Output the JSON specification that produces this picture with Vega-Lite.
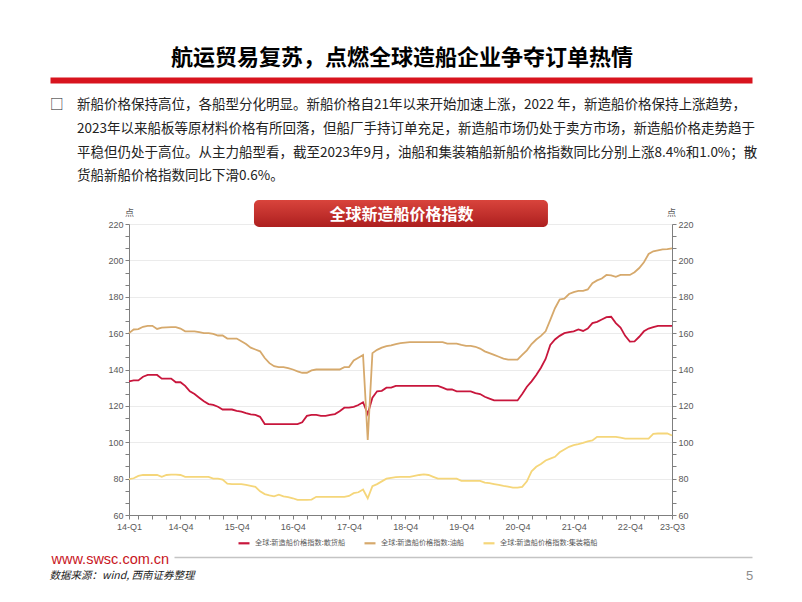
{
"$schema": "https://vega.github.io/schema/vega-lite/v6.json",
"width": 543,
"height": 291,
"autosize": "none",
"padding": {"left": 129, "top": 224, "right": 130, "bottom": 87},
"background": "#ffffff",
"title": {
  "text": "\u200b　　　　　\u2002航运贸易复苏，点燃全球造船企业争夺订单热情",
  "subtitle": [
    "□　新船价格保持高位，各船型分化明显。新船价格自21年以来开始加速上涨，2022 年，新造船价格保持上涨趋势，",
    "\u200b　　2023年以来船板等原材料价格有所回落，但船厂手持订单充足，新造船市场仍处于卖方市场，新造船价格走势趋于",
    "\u200b　　平稳但仍处于高位。从主力船型看，截至2023年9月，油船和集装箱船新船价格指数同比分别上涨8.4%和1.0%；散",
    "\u200b　　货船新船价格指数同比下滑0.6%。"
  ],
  "anchor": "start",
  "frame": "group",
  "dx": -79,
  "dy": 104,
  "offset": 0,
  "font": "Noto Sans CJK SC",
  "fontSize": 22,
  "fontWeight": "bold",
  "color": "#000000",
  "subtitleFont": "Noto Sans CJK SC",
  "subtitleFontSize": 13.5,
  "subtitleColor": "#222222",
  "subtitleLineHeight": 23.7,
  "subtitlePadding": 28
},
"config": {
  "view": {"stroke": null},
  "axis": {
    "labelFont": "Liberation Sans",
    "labelFontSize": 9,
    "labelColor": "#595959",
    "domainColor": "#7f7f7f",
    "tickColor": "#7f7f7f",
    "tickSize": 4,
    "titleFont": "Noto Sans CJK SC",
    "titleFontSize": 9,
    "titleColor": "#595959",
    "titleFontWeight": "normal",
    "gridColor": "#ebebeb"
  }
},
"resolve": {
  "scale": {"x": "independent"},
  "axis": {"x": "independent", "y": "independent"}
},
"layer": [
  {
    "data": {"values": [
      {"t":0,"散货船":133.5,"油船":160,"集装箱船":79.7},
      {"t":1,"散货船":134,"油船":162,"集装箱船":80.2},
      {"t":2,"散货船":134,"油船":162.2,"集装箱船":81.5},
      {"t":3,"散货船":136,"油船":163.5,"集装箱船":82},
      {"t":4,"散货船":137,"油船":164,"集装箱船":82},
      {"t":5,"散货船":137,"油船":164,"集装箱船":82},
      {"t":6,"散货船":137,"油船":162.3,"集装箱船":82},
      {"t":7,"散货船":135,"油船":163,"集装箱船":81},
      {"t":8,"散货船":135,"油船":163.2,"集装箱船":82},
      {"t":9,"散货船":135,"油船":163.3,"集装箱船":82.2},
      {"t":10,"散货船":133,"油船":163.3,"集装箱船":82.2},
      {"t":11,"散货船":133,"油船":162.5,"集装箱船":82},
      {"t":12,"散货船":131,"油船":161,"集装箱船":81},
      {"t":13,"散货船":128,"油船":161,"集装箱船":81},
      {"t":14,"散货船":126.5,"油船":161,"集装箱船":81},
      {"t":15,"散货船":124.5,"油船":160.5,"集装箱船":81},
      {"t":16,"散货船":122.5,"油船":160,"集装箱船":81},
      {"t":17,"散货船":121,"油船":160,"集装箱船":81},
      {"t":18,"散货船":120.5,"油船":159.6,"集装箱船":80},
      {"t":19,"散货船":119.5,"油船":158.7,"集装箱船":80},
      {"t":20,"散货船":118,"油船":158.7,"集装箱船":79.5},
      {"t":21,"散货船":118,"油船":157,"集装箱船":77.2},
      {"t":22,"散货船":118,"油船":157,"集装箱船":77},
      {"t":23,"散货船":117.3,"油船":157,"集装箱船":77},
      {"t":24,"散货船":116.8,"油船":155.5,"集装箱船":77},
      {"t":25,"散货船":116,"油船":154,"集装箱船":76.5},
      {"t":26,"散货船":115.3,"油船":152,"集装箱船":76},
      {"t":27,"散货船":115,"油船":151,"集装箱船":75.5},
      {"t":28,"散货船":114,"油船":150,"集装箱船":73},
      {"t":29,"散货船":110,"油船":146.3,"集装箱船":71.5},
      {"t":30,"散货船":110,"油船":143.5,"集装箱船":70.8},
      {"t":31,"散货船":110,"油船":141.8,"集装箱船":70.3},
      {"t":32,"散货船":110,"油船":141.3,"集装箱船":71.2},
      {"t":33,"散货船":110,"油船":141.3,"集装箱船":70.2},
      {"t":34,"散货船":110,"油船":140.8,"集装箱船":69.8},
      {"t":35,"散货船":110,"油船":140,"集装箱船":69.2},
      {"t":36,"散货船":110,"油船":139,"集装箱船":68.3},
      {"t":37,"散货船":111,"油船":138.2,"集装箱船":68.3},
      {"t":38,"散货船":114.5,"油船":138.2,"集装箱船":68.3},
      {"t":39,"散货船":115,"油船":139.5,"集装箱船":68.5},
      {"t":40,"散货船":115,"油船":140,"集装箱船":70},
      {"t":41,"散货船":114.5,"油船":140,"集装箱船":70},
      {"t":42,"散货船":114.5,"油船":140,"集装箱船":70},
      {"t":43,"散货船":115,"油船":140,"集装箱船":70},
      {"t":44,"散货船":115.5,"油船":140,"集装箱船":70},
      {"t":45,"散货船":117,"油船":140,"集装箱船":70},
      {"t":46,"散货船":119,"油船":141.3,"集装箱船":70},
      {"t":47,"散货船":119,"油船":141.3,"集装箱船":70.5},
      {"t":48,"散货船":119.5,"油船":145,"集装箱船":72},
      {"t":49,"散货船":120.5,"油船":146.5,"集装箱船":72.5},
      {"t":50,"散货船":122,"油船":148,"集装箱船":74},
      {"t":51,"散货船":115.5,"油船":101.3,"集装箱船":69.2},
      {"t":52,"散货船":124.5,"油船":149,"集装箱船":75.8},
      {"t":53,"散货船":128,"油船":150.8,"集装箱船":77},
      {"t":54,"散货船":128.3,"油船":152,"集装箱船":78.5},
      {"t":55,"散货船":130,"油船":152.8,"集装箱船":80},
      {"t":56,"散货船":130,"油船":153.3,"集装箱船":80.4},
      {"t":57,"散货船":131,"油船":154,"集装箱船":80.8},
      {"t":58,"散货船":131,"油船":154.5,"集装箱船":81},
      {"t":59,"散货船":131,"油船":154.8,"集装箱船":81},
      {"t":60,"散货船":131,"油船":155,"集装箱船":81},
      {"t":61,"散货船":131,"油船":155,"集装箱船":81.5},
      {"t":62,"散货船":131,"油船":155,"集装箱船":82},
      {"t":63,"散货船":131,"油船":155,"集装箱船":82.3},
      {"t":64,"散货船":131,"油船":155,"集装箱船":82},
      {"t":65,"散货船":131,"油船":155,"集装箱船":81},
      {"t":66,"散货船":131,"油船":155,"集装箱船":80},
      {"t":67,"散货船":130,"油船":155,"集装箱船":80},
      {"t":68,"散货船":129,"油船":154.2,"集装箱船":80},
      {"t":69,"散货船":129,"油船":154.2,"集装箱船":80},
      {"t":70,"散货船":128,"油船":154.2,"集装箱船":80},
      {"t":71,"散货船":128,"油船":153.5,"集装箱船":78.8},
      {"t":72,"散货船":128,"油船":153,"集装箱船":78.8},
      {"t":73,"散货船":128,"油船":153,"集装箱船":78.8},
      {"t":74,"散货船":127,"油船":152.5,"集装箱船":78.8},
      {"t":75,"散货船":126.5,"油船":151.5,"集装箱船":78.8},
      {"t":76,"散货船":125,"油船":150,"集装箱船":77.8},
      {"t":77,"散货船":124,"油船":149,"集装箱船":77.5},
      {"t":78,"散货船":123,"油船":148,"集装箱船":77},
      {"t":79,"散货船":123,"油船":147,"集装箱船":76.5},
      {"t":80,"散货船":123,"油船":146,"集装箱船":76},
      {"t":81,"散货船":123,"油船":145.4,"集装箱船":75.6},
      {"t":82,"散货船":123,"油船":145.4,"集装箱船":75},
      {"t":83,"散货船":123,"油船":145.4,"集装箱船":75},
      {"t":84,"散货船":126.5,"油船":148,"集装箱船":75.5},
      {"t":85,"散货船":130.5,"油船":150.5,"集装箱船":78.5},
      {"t":86,"散货船":133.5,"油船":154,"集装箱船":84},
      {"t":87,"散货船":137,"油船":156.5,"集装箱船":86.5},
      {"t":88,"散货船":141,"油船":158.5,"集装箱船":88},
      {"t":89,"散货船":145.8,"油船":161,"集装箱船":90},
      {"t":90,"散货船":153.5,"油船":167.3,"集装箱船":91},
      {"t":91,"散货船":156.5,"油船":173.7,"集装箱船":92},
      {"t":92,"散货船":158.5,"油船":178.5,"集装箱船":94.5},
      {"t":93,"散货船":160,"油船":179,"集装箱船":96},
      {"t":94,"散货船":160.5,"油船":181.5,"集装箱船":97.5},
      {"t":95,"散货船":161,"油船":182.5,"集装箱船":98.4},
      {"t":96,"散货船":162,"油船":183.2,"集装箱船":99},
      {"t":97,"散货船":161.2,"油船":183.2,"集装箱船":99.7},
      {"t":98,"散货船":162.5,"油船":184,"集装箱船":100.5},
      {"t":99,"散货船":165.5,"油船":187.5,"集装箱船":101},
      {"t":100,"散货船":166.2,"油船":189,"集装箱船":103},
      {"t":101,"散货船":167.5,"油船":190,"集装箱船":103},
      {"t":102,"散货船":168.8,"油船":192,"集装箱船":103},
      {"t":103,"散货船":169,"油船":191.8,"集装箱船":103},
      {"t":104,"散货船":165.5,"油船":191,"集装箱船":103},
      {"t":105,"散货船":163,"油船":192,"集装箱船":102.5},
      {"t":106,"散货船":158.5,"油船":192,"集装箱船":102},
      {"t":107,"散货船":155.3,"油船":192,"集装箱船":102},
      {"t":108,"散货船":155.5,"油船":193.5,"集装箱船":102},
      {"t":109,"散货船":158,"油船":195.8,"集装箱船":102},
      {"t":110,"散货船":161,"油船":199,"集装箱船":102},
      {"t":111,"散货船":162.5,"油船":203.5,"集装箱船":102},
      {"t":112,"散货船":163.3,"油船":205,"集装箱船":104.6},
      {"t":113,"散货船":164,"油船":205.5,"集装箱船":104.8},
      {"t":114,"散货船":164,"油船":206,"集装箱船":104.8},
      {"t":115,"散货船":164,"油船":206.2,"集装箱船":104.8},
      {"t":116,"散货船":164,"油船":206.6,"集装箱船":103.7}
    ]},
    "transform": [{"fold": ["散货船", "油船", "集装箱船"], "as": ["series", "value"]}],
    "mark": {"type": "line", "strokeWidth": 1.8},
    "encoding": {
      "x": {
        "field": "t", "type": "quantitative",
        "scale": {"domain": [0, 116], "nice": false, "zero": false},
        "axis": {
          "orient": "bottom",
          "values": [0,2,5,8,11,14,17,20,23,26,29,32,35,38,41,44,47,50,53,56,59,62,65,68,71,74,77,80,83,86,89,92,95,98,101,104,107,110,113,116],
          "labelExpr": "indexof([0,11,23,35,47,59,71,83,95,107,116], datum.value) >= 0 ? (floor(datum.value/12)+14) + '-Q' + (floor((datum.value%12)/3)+1) : ''",
          "labelFlush": false,
          "labelOverlap": false,
          "labelPadding": 3,
          "grid": false,
          "title": "数据来源：wind, 西南证券整理",
          "titleFontStyle": "italic",
          "titleFontSize": 10.5,
          "titleColor": "#222222",
          "titleX": -80,
          "titleY": 60,
          "titleAlign": "left",
          "titleBaseline": "middle",
          "titleAngle": 0
        }
      },
      "y": {
        "field": "value", "type": "quantitative",
        "scale": {"domain": [60, 220], "nice": false, "zero": false},
        "axis": {
          "orient": "left",
          "values": [60,66.6667,73.3333,80,86.6667,93.3333,100,106.6667,113.3333,120,126.6667,133.3333,140,146.6667,153.3333,160,166.6667,173.3333,180,186.6667,193.3333,200,206.6667,213.3333,220],
          "labelExpr": "datum.value % 20 === 0 ? datum.label : ''",
          "format": "d",
          "grid": true,
          "gridOpacity": {"condition": {"test": "datum.value % 20 === 0", "value": 1}, "value": 0},
          "title": "点",
          "titleAngle": 0,
          "titleX": 0,
          "titleY": -12,
          "titleAlign": "center",
          "titleBaseline": "middle"
        }
      },
      "color": {
        "field": "series", "type": "nominal",
        "scale": {"domain": ["散货船", "油船", "集装箱船"], "range": ["#c8163c", "#d6a96c", "#f5d67a"]},
        "legend": {
          "orient": "none",
          "legendX": 108,
          "legendY": 312,
          "direction": "horizontal",
          "title": null,
          "symbolType": "stroke",
          "symbolSize": 121,
          "symbolStrokeWidth": 2.2,
          "labelFont": "Noto Sans CJK SC",
          "labelFontSize": 7.2,
          "labelColor": "#595959",
          "labelOffset": 4,
          "columnPadding": 14,
          "padding": 0,
          "labelExpr": "'全球:新造船价格指数:' + datum.label"
        }
      }
    }
  },
  {
    "data": {"values": [{"label": "全球新造船价格指数"}]},
    "mark": {"type": "rect", "cornerRadius": 5,
      "fill": {"gradient": "linear", "x1": 0, "y1": 0, "x2": 0, "y2": 1,
        "stops": [{"offset": 0, "color": "#d9443c"}, {"offset": 1, "color": "#ad1f1f"}]}},
    "encoding": {
      "x": {"datum": 26.7, "type": "quantitative",
        "scale": {"domain": [9.6133, 133.091], "range": [45, 623], "nice": false, "zero": false},
        "axis": {"orient": "bottom", "offset": 42, "labels": false, "ticks": false, "grid": false,
          "domainColor": "#c4c4c4", "domainWidth": 1.5,
          "title": "5", "titleFont": "Liberation Sans", "titleFontSize": 13, "titleColor": "#8c8c8c",
          "titleX": 620, "titleY": 18, "titleAlign": "center", "titleBaseline": "middle"}},
      "x2": {"datum": 89.5},
      "y": {"datum": 218.4, "type": "quantitative",
        "scale": {"domain": [60, 220], "nice": false, "zero": false}, "axis": null},
      "y2": {"datum": 233.2}
    }
  },
  {
    "data": {"values": [{"label": "全球新造船价格指数"}]},
    "mark": {"type": "text", "font": "Noto Sans CJK SC", "fontSize": 16, "fontWeight": "bold", "color": "#ffffff", "align": "center", "baseline": "middle"},
    "encoding": {
      "text": {"field": "label"},
      "x": {"datum": 58.2, "type": "quantitative",
        "scale": {"domain": [-16.877, 133.091], "range": [-79, 623], "nice": false, "zero": false},
        "axis": {"orient": "top", "offset": 144, "labels": false, "ticks": false, "grid": false,
          "domainColor": "#d8141e", "domainWidth": 6,
          "title": "www.swsc.com.cn", "titleFont": "Liberation Sans", "titleFontSize": 14.5, "titleColor": "#c8161d",
          "titleFontWeight": "normal",
          "titleX": -78, "titleY": 479, "titleAlign": "left", "titleBaseline": "middle"}},
      "y": {"datum": 224.9, "type": "quantitative",
        "scale": {"domain": [60, 220], "nice": false, "zero": false},
        "axis": {
          "orient": "right",
          "values": [60,66.6667,73.3333,80,86.6667,93.3333,100,106.6667,113.3333,120,126.6667,133.3333,140,146.6667,153.3333,160,166.6667,173.3333,180,186.6667,193.3333,200,206.6667,213.3333,220],
          "labelExpr": "datum.value % 20 === 0 ? datum.label : ''",
          "format": "d",
          "grid": false,
          "title": "点",
          "titleAngle": 0,
          "titleX": -1,
          "titleY": -12,
          "titleAlign": "center",
          "titleBaseline": "middle"
        }
      }
    }
  }
]
}
